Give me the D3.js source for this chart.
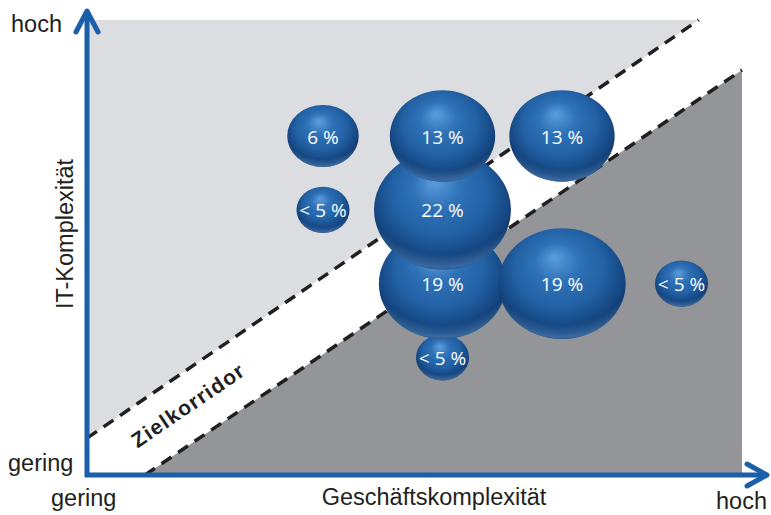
<!DOCTYPE html>
<html>
<head>
<meta charset="utf-8">
<script src="https://cdn.jsdelivr.net/npm/d3@7"></script>
<style>
  html, body { margin: 0; padding: 0; background: #ffffff; }
  svg { display: block; }
</style>
</head>
<body>
<svg id="chart" width="771" height="515"></svg>
<script>
// ---- data ----
const bizLevel   = [2, 3, 4, 2, 3, 3, 4, 5, 3];          // Geschäftskomplexität (column)
const itLevel    = [4, 4, 4, 3, 3, 2, 2, 2, 1];          // IT-Komplexität (row)
const shareValue = [6, 13, 13, 3.3, 22, 19, 19, 3.3, 3.3]; // share in % ("< 5 %" estimated)
const shareLabel = ["6 %", "13 %", "13 %", "< 5 %", "22 %", "19 %", "19 %", "< 5 %", "< 5 %"];

const axisLow   = "gering";
const axisHigh  = "hoch";
const xTitle    = "Geschäftskomplexität";
const yTitle    = "IT-Komplexität";
const corridorLabel = "Zielkorridor";

// corridor boundaries in frame-fraction units [x, y]
const corridorUpper = [[0, 0.081], [0.934, 1]];
const corridorLower = [[0.0885, 0], [1, 0.89]];

// ---- layout ----
const svg = d3.select("#chart");
const frameL = 87, frameR = 742, frameT = 20, frameB = 475;
const fx = d3.scaleLinear().domain([0, 1]).range([frameL, frameR]);
const fy = d3.scaleLinear().domain([0, 1]).range([frameB, frameT]);

const bx = d3.scaleLinear().domain([2, 5]).range([323, 681.5]);
const by = d3.scaleLinear().domain([1, 4]).range([357.5, 136]);
const rScale = d3.scaleSqrt().domain([0, 22]).range([0, 68.5]);
const aspect = 0.87;

const axisColor = "#1b5faa";
const textColor = "#231f20";

// ---- defs ----
const defs = svg.append("defs");
const g1 = defs.append("radialGradient").attr("id", "ballBase")
  .attr("cx", 0.5).attr("cy", 0.42).attr("r", 0.58).attr("fx", 0.44).attr("fy", 0.26);
[[0, "#5a9fdc", 1], [0.3, "#2f72b8", 1], [0.62, "#2160a3", 1], [0.86, "#154681", 1], [1, "#0c2c55", 1]]
  .forEach(([o, c, a]) => g1.append("stop").attr("offset", o).attr("stop-color", c).attr("stop-opacity", a));
const g2 = defs.append("radialGradient").attr("id", "ballRim")
  .attr("cx", 0.5).attr("cy", 0.3).attr("r", 0.8);
[[0, "#5a96d6", 0], [0.72, "#5a96d6", 0], [0.85, "#5a96d6", 0.55], [0.92, "#5a96d6", 0.3], [1, "#5a96d6", 0]]
  .forEach(([o, c, a]) => g2.append("stop").attr("offset", o).attr("stop-color", c).attr("stop-opacity", a));

// ---- background regions ----
svg.append("polygon")
  .attr("points", [[fx(0), fy(1)], [fx(corridorUpper[1][0]), fy(1)], [fx(0), fy(corridorUpper[0][1])]].join(" "))
  .attr("fill", "#dcdde0");
svg.append("polygon")
  .attr("points", [[fx(corridorLower[0][0]), fy(0)], [fx(1), fy(corridorLower[1][1])], [fx(1), fy(0)]].join(" "))
  .attr("fill", "#939598");

// corridor dashed lines
[corridorUpper, corridorLower].forEach(seg => {
  svg.append("line")
    .attr("x1", fx(seg[0][0])).attr("y1", fy(seg[0][1]))
    .attr("x2", fx(seg[1][0])).attr("y2", fy(seg[1][1]))
    .attr("stroke", textColor).attr("stroke-width", 3.5)
    .attr("stroke-dasharray", "12 8");
});

// corridor label
svg.append("text")
  .attr("transform", "translate(188,405) rotate(-34.2)")
  .attr("text-anchor", "middle").attr("dominant-baseline", "central")
  .attr("font-family", "Liberation Sans, Arial, sans-serif")
  .attr("font-weight", "bold").attr("font-size", 21)
  .attr("letter-spacing", 1.3)
  .attr("fill", textColor)
  .text(corridorLabel);

// ---- bubbles ----
const data = bizLevel.map((b, i) => ({ b, it: itLevel[i], v: shareValue[i], label: shareLabel[i] }))
  .sort((a, c) => a.it - c.it);

const balls = svg.append("g").selectAll("g").data(data).join("g");
balls.append("ellipse")
  .attr("cx", d => bx(d.b)).attr("cy", d => by(d.it))
  .attr("rx", d => rScale(d.v)).attr("ry", d => rScale(d.v) * aspect)
  .attr("fill", "url(#ballBase)");
balls.append("ellipse")
  .attr("cx", d => bx(d.b)).attr("cy", d => by(d.it))
  .attr("rx", d => rScale(d.v)).attr("ry", d => rScale(d.v) * aspect)
  .attr("fill", "url(#ballRim)");
balls.append("text")
  .attr("x", d => bx(d.b)).attr("y", d => by(d.it) + 7.5)
  .attr("text-anchor", "middle")
  .attr("font-family", "Open Sans, sans-serif").attr("font-size", 19)
  .attr("fill", "#ffffff")
  .text(d => d.label);

// ---- axes ----
const ax = svg.append("g").attr("stroke", axisColor).attr("stroke-width", 5)
  .attr("fill", "none").attr("stroke-linecap", "round").attr("stroke-linejoin", "round");
ax.append("path").attr("d", `M${frameL},${frameB + 2} L${frameL},12`).attr("stroke-linecap", "butt");
ax.append("path").attr("d", `M${frameL - 2},${frameB} L765,${frameB}`).attr("stroke-linecap", "butt");
ax.append("path").attr("d", `M${frameL - 11},32 L${frameL},11 L${frameL + 11},32`);
ax.append("path").attr("d", `M747,${frameB - 11} L767,${frameB} L747,${frameB + 11}`);

// ---- axis texts ----
const lab = svg.append("g").attr("font-family", "Liberation Sans, Arial, sans-serif")
  .attr("font-size", 23.5).attr("fill", textColor);
lab.append("text").attr("x", 11).attr("y", 32).text(axisHigh);
lab.append("text").attr("x", 8).attr("y", 471).text(axisLow);
lab.append("text").attr("x", 51).attr("y", 506).text(axisLow);
lab.append("text").attr("x", 434).attr("y", 505).attr("text-anchor", "middle").text(xTitle);
lab.append("text").attr("x", 767).attr("y", 509).attr("text-anchor", "end").text(axisHigh);
lab.append("text").attr("transform", "translate(73,234) rotate(-90)").attr("text-anchor", "middle").text(yTitle);
</script>
</body>
</html>
